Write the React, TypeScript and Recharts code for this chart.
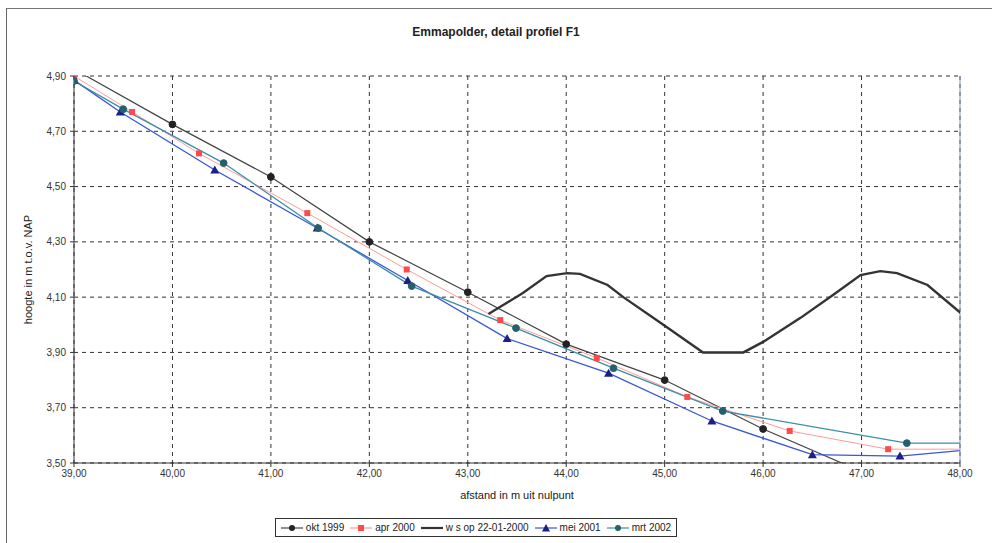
import React from 'react';
import {
  LineChart,
  Line,
  XAxis,
  YAxis,
  CartesianGrid,
  Legend,
  ReferenceLine,
} from 'recharts';

// values (afstand in m, hoogte in m t.o.v. NAP)
const okt1999 = [
  { x: 39.0, y: 4.925 },
  { x: 40.0, y: 4.725 },
  { x: 41.0, y: 4.535 },
  { x: 42.0, y: 4.3 },
  { x: 43.0, y: 4.118 },
  { x: 44.0, y: 3.93 },
  { x: 45.0, y: 3.8 },
  { x: 46.0, y: 3.623 },
  { x: 47.0, y: 3.469 },
];

const apr2000 = [
  { x: 39.0, y: 4.9 },
  { x: 39.59, y: 4.77 },
  { x: 40.27, y: 4.62 },
  { x: 41.37, y: 4.404 },
  { x: 42.38, y: 4.2 },
  { x: 43.33, y: 4.017 },
  { x: 44.31, y: 3.88 },
  { x: 45.23, y: 3.739 },
  { x: 46.27, y: 3.616 },
  { x: 47.27, y: 3.55 },
  { x: 48.4, y: 3.55 },
];

const wsop = [
  { x: 43.21, y: 4.039 },
  { x: 43.56, y: 4.115 },
  { x: 43.8, y: 4.176 },
  { x: 44.01, y: 4.187 },
  { x: 44.14, y: 4.184 },
  { x: 44.42, y: 4.144 },
  { x: 44.58, y: 4.1 },
  { x: 44.99, y: 3.999 },
  { x: 45.39, y: 3.9 },
  { x: 45.8, y: 3.9 },
  { x: 46.0, y: 3.938 },
  { x: 46.38, y: 4.025 },
  { x: 46.71, y: 4.108 },
  { x: 46.99, y: 4.18 },
  { x: 47.19, y: 4.194 },
  { x: 47.36, y: 4.187 },
  { x: 47.67, y: 4.144 },
  { x: 48.02, y: 4.039 },
];

const mei2001 = [
  { x: 39.0, y: 4.885 },
  { x: 39.47, y: 4.77 },
  { x: 40.43, y: 4.56 },
  { x: 41.47, y: 4.35 },
  { x: 42.39, y: 4.16 },
  { x: 43.4, y: 3.95 },
  { x: 44.43, y: 3.825 },
  { x: 45.48, y: 3.652 },
  { x: 46.5, y: 3.53 },
  { x: 47.39, y: 3.525 },
  { x: 48.4, y: 3.558 },
];

const mrt2002 = [
  { x: 39.0, y: 4.882 },
  { x: 39.5, y: 4.78 },
  { x: 40.52, y: 4.585 },
  { x: 41.48, y: 4.35 },
  { x: 42.43, y: 4.14 },
  { x: 43.49, y: 3.988 },
  { x: 44.48, y: 3.843 },
  { x: 45.59, y: 3.688 },
  { x: 47.46, y: 3.572 },
  { x: 48.4, y: 3.572 },
];

const xTicks = [39, 40, 41, 42, 43, 44, 45, 46, 47, 48];
const yTicks = [3.5, 3.7, 3.9, 4.1, 4.3, 4.5, 4.7, 4.9];

const seriesNames = ['okt 1999', 'apr 2000', 'w s op 22-01-2000', 'mei 2001', 'mrt 2002'];

const FONT = '"Liberation Sans", Arial, sans-serif';
const comma = (v: number) => v.toFixed(2).replace('.', ',');

const C = {
  okt: '#444444',
  oktDot: '#222222',
  apr: '#ff9a9a',
  aprDot: '#ff4a4a',
  wsop: '#333333',
  mei: '#3a55d8',
  meiDot: '#1c1f86',
  mrt: '#3b8ea8',
  mrtDot: '#24606e',
};

const circleDot = (fill: string) => (p: any) => {
  if (p.cx == null || p.cy == null) return <g key={p.index} />;
  return <circle key={p.index} cx={p.cx} cy={p.cy} r={3.4} fill={fill} stroke={fill} />;
};

const squareDot = (fill: string) => (p: any) => {
  if (p.cx == null || p.cy == null) return <g key={p.index} />;
  return <rect key={p.index} x={p.cx - 3} y={p.cy - 3} width={6} height={6} fill={fill} />;
};

const triangleDot = (fill: string) => (p: any) => {
  if (p.cx == null || p.cy == null) return <g key={p.index} />;
  const { cx, cy } = p;
  return (
    <path
      key={p.index}
      d={`M${cx},${cy - 4.5}L${cx + 4.5},${cy + 3.5}L${cx - 4.5},${cy + 3.5}Z`}
      fill={fill}
    />
  );
};

function LegendIcon({ line, dot, shape, width }: { line: string; dot?: string; shape?: string; width?: number }) {
  return (
    <svg width={22} height={10} style={{ marginRight: 3 }}>
      <line x1={0} y1={5} x2={22} y2={5} stroke={line} strokeWidth={width ?? 1.2} />
      {shape === 'circle' && <circle cx={11} cy={5} r={3} fill={dot} />}
      {shape === 'square' && <rect x={8} y={2} width={6} height={6} fill={dot} />}
      {shape === 'triangle' && <path d="M11,1L15,8.5L7,8.5Z" fill={dot} />}
    </svg>
  );
}

function renderLegend() {
  const icons = [
    { line: C.okt, dot: C.oktDot, shape: 'circle' },
    { line: C.apr, dot: C.aprDot, shape: 'square' },
    { line: C.wsop, width: 2.2 },
    { line: C.mei, dot: C.meiDot, shape: 'triangle' },
    { line: C.mrt, dot: C.mrtDot, shape: 'circle' },
  ];
  return (
    <div style={{ display: 'flex', justifyContent: 'center' }}>
      <div
        style={{
          display: 'flex',
          alignItems: 'center',
          border: '1px solid #333',
          padding: '3px 5px',
          fontFamily: FONT,
          fontSize: 10,
          color: '#222',
          gap: 6,
        }}
      >
        {seriesNames.map((name, i) => (
          <span key={name} style={{ display: 'flex', alignItems: 'center' }}>
            <LegendIcon {...icons[i]} />
            {name}
          </span>
        ))}
      </div>
    </div>
  );
}

export default function App() {
  return (
    <div style={{ position: 'absolute', left: 0, top: 0, width: 992, height: 543, background: '#fff' }}>
      <div
        style={{
          position: 'absolute',
          left: 6,
          top: 8,
          width: 986,
          height: 535,
          borderLeft: '1px solid #666',
          borderTop: '1px solid #777',
        }}
      />
      <div
        style={{
          position: 'absolute',
          left: 0,
          top: 25,
          width: 992,
          textAlign: 'center',
          fontFamily: FONT,
          fontWeight: 'bold',
          fontSize: 12,
          color: '#222',
        }}
      >
        Emmapolder, detail profiel F1
      </div>
      <LineChart
        width={992}
        height={543}
        margin={{ top: 76, right: 32, left: 0, bottom: 50 }}
        style={{ position: 'absolute', left: 0, top: 0 }}
      >
        <CartesianGrid stroke="#333" strokeDasharray="4 4" strokeWidth={1} />
        <XAxis
          type="number"
          dataKey="x"
          domain={[39, 48]}
          ticks={xTicks}
          allowDataOverflow
          height={30}
          tickSize={4}
          tickMargin={3}
          tickFormatter={comma}
          stroke="#333"
          tick={{ fill: '#333', fontSize: 10, fontFamily: FONT }}
          label={{
            value: 'afstand in m uit nulpunt',
            position: 'bottom',
            offset: -2,
            style: { fill: '#222', fontSize: 11, fontFamily: FONT },
          }}
        />
        <YAxis
          type="number"
          domain={[3.5, 4.9]}
          ticks={yTicks}
          allowDataOverflow
          width={74}
          tickSize={4}
          tickMargin={4}
          tickFormatter={comma}
          stroke="#333"
          tick={{ fill: '#333', fontSize: 10, fontFamily: FONT }}
          label={{
            value: 'hoogte in m t.o.v. NAP',
            angle: -90,
            position: 'insideLeft',
            offset: 28,
            style: { fill: '#222', fontSize: 11, fontFamily: FONT, textAnchor: 'middle' },
          }}
        />
        <ReferenceLine x={48} stroke="#8090c8" strokeWidth={1} />
        <Legend
          layout="horizontal"
          verticalAlign="middle"
          align="center"
          wrapperStyle={{ top: 518, left: 0, width: 952 }}
          content={renderLegend}
        />
        <Line
          data={okt1999}
          dataKey="y"
          name={seriesNames[0]}
          stroke={C.okt}
          strokeWidth={1.2}
          dot={circleDot(C.oktDot)}
          isAnimationActive={false}
        />
        <Line
          data={apr2000}
          dataKey="y"
          name={seriesNames[1]}
          stroke={C.apr}
          strokeWidth={1}
          dot={squareDot(C.aprDot)}
          isAnimationActive={false}
        />
        <Line
          data={wsop}
          dataKey="y"
          name={seriesNames[2]}
          stroke={C.wsop}
          strokeWidth={2.4}
          dot={false}
          isAnimationActive={false}
        />
        <Line
          data={mei2001}
          dataKey="y"
          name={seriesNames[3]}
          stroke={C.mei}
          strokeWidth={1.3}
          dot={triangleDot(C.meiDot)}
          isAnimationActive={false}
        />
        <Line
          data={mrt2002}
          dataKey="y"
          name={seriesNames[4]}
          stroke={C.mrt}
          strokeWidth={1.3}
          dot={circleDot(C.mrtDot)}
          isAnimationActive={false}
        />
      </LineChart>
    </div>
  );
}
